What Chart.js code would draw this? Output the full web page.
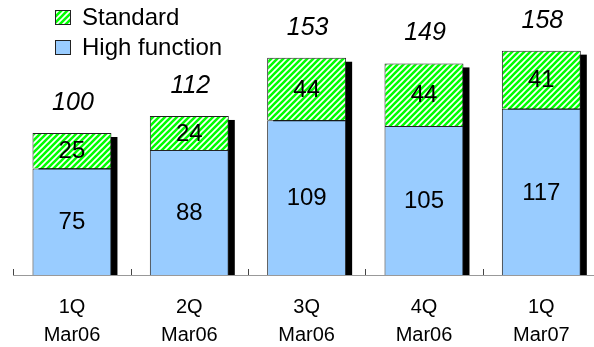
<!DOCTYPE html>
<html>
<head>
<meta charset="utf-8">
<script src="https://cdn.jsdelivr.net/npm/chart.js@4"></script>
<style>
  html, body { margin: 0; padding: 0; overflow: hidden; background: #fff; width: 594px; height: 347px; }
  #wrap { width: 602px; height: 347px; }
</style>
</head>
<body>
<div id="wrap"><canvas id="c" width="602" height="347"></canvas></div>
<script>
// Quarterly units by product line
const quarters = [['1Q', 'Mar06'], ['2Q', 'Mar06'], ['3Q', 'Mar06'], ['4Q', 'Mar06'], ['1Q', 'Mar07']];
const highFunction = [75, 88, 109, 105, 117];
const standard = [25, 24, 44, 44, 41];
const totals = [100, 112, 153, 149, 158];

const FONT = '"Liberation Sans", Arial, sans-serif';
const BLUE = '#99ccff';

const canvas = document.getElementById('c');
const ctx = canvas.getContext('2d');

// diagonal green/white hatch fill
function makeHatch(c) {
  const t = document.createElement('canvas');
  t.width = 6; t.height = 6;
  const g = t.getContext('2d');
  g.fillStyle = '#ffffff';
  g.fillRect(0, 0, 6, 6);
  g.strokeStyle = '#00ff00';
  g.lineWidth = 2.6;
  g.beginPath();
  g.moveTo(-3, 3); g.lineTo(3, -3);
  g.moveTo(0, 6); g.lineTo(6, 0);
  g.moveTo(3, 9); g.lineTo(9, 3);
  g.stroke();
  return c.createPattern(t, 'repeat');
}
const hatch = makeHatch(ctx);

const decor = {
  id: 'decor',
  beforeDatasetsDraw(chart) {
    const { ctx, chartArea } = chart;
    const tops = chart.getDatasetMeta(1).data;
    ctx.save();
    // drop shadow behind each stacked column
    ctx.fillStyle = '#000';
    tops.forEach(el => {
      const { x, y, width } = el.getProps(['x', 'y', 'width'], true);
      ctx.fillRect(x - width / 2 + 6, y + 4, width, chartArea.bottom - y - 4);
    });
    // short upward tick marks at category boundaries
    const xs = chart.scales.x;
    ctx.strokeStyle = '#444';
    ctx.lineWidth = 1;
    for (let i = 0; i <= quarters.length; i++) {
      const px = Math.round(xs.getPixelForValue(i - 0.5)) + 0.5;
      ctx.beginPath();
      ctx.moveTo(px, chartArea.bottom);
      ctx.lineTo(px, chartArea.bottom - 6);
      ctx.stroke();
    }
    ctx.restore();
  },
  afterDatasetsDraw(chart) {
    const { ctx } = chart;
    ctx.save();
    ctx.fillStyle = '#000';
    ctx.textAlign = 'center';
    ctx.textBaseline = 'middle';
    // segment values
    ctx.font = '24px ' + FONT;
    chart.data.datasets.forEach((ds, di) => {
      chart.getDatasetMeta(di).data.forEach((el, i) => {
        const { x, y, base } = el.getProps(['x', 'y', 'base'], true);
        ctx.fillText(String(ds.data[i]), x, (y + base) / 2 + 1);
      });
    });
    // column totals
    ctx.font = 'italic 25px ' + FONT;
    chart.getDatasetMeta(1).data.forEach((el, i) => {
      const { x, y } = el.getProps(['x', 'y'], true);
      ctx.fillText(String(totals[i]), x + 1, y - 30);
    });
    // legend (top series first)
    const items = [chart.data.datasets[1], chart.data.datasets[0]];
    ctx.textAlign = 'left';
    ctx.font = '24px ' + FONT;
    items.forEach((ds, k) => {
      const by = 10 + k * 30;
      ctx.fillStyle = ds.backgroundColor;
      ctx.fillRect(55, by, 16, 15);
      ctx.strokeStyle = '#222';
      ctx.lineWidth = 1;
      ctx.strokeRect(55.5, by + 0.5, 15, 14);
      ctx.fillStyle = '#000';
      ctx.fillText(ds.label, 82, by + 8);
    });
    ctx.restore();
  }
};

new Chart(canvas, {
  type: 'bar',
  data: {
    labels: quarters,
    datasets: [
      { label: 'High function', data: highFunction, backgroundColor: BLUE, borderColor: '#222', borderWidth: 1 },
      { label: 'Standard', data: standard, backgroundColor: hatch, borderColor: '#222', borderWidth: 1 }
    ]
  },
  options: {
    responsive: false,
    animation: false,
    events: [],
    layout: { padding: { left: 13.3, right: 2, top: 19.4, bottom: 0 } },
    datasets: { bar: { categoryPercentage: 1, barPercentage: 0.673 } },
    plugins: { legend: { display: false }, tooltip: { enabled: false } },
    scales: {
      x: {
        stacked: true,
        grid: { display: false, drawTicks: false },
        border: { display: true, color: '#999', width: 1 },
        ticks: { color: '#000', padding: 18, font: { family: FONT, size: 20, lineHeight: 1.4 } },
        afterFit(scale) { scale.height = 72; }
      },
      y: {
        stacked: true,
        display: false,
        min: 0,
        max: 180
      }
    }
  },
  plugins: [decor]
});
</script>
</body>
</html>
